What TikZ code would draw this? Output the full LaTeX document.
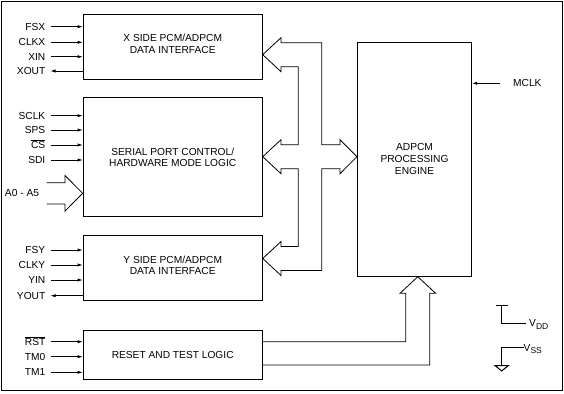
\documentclass[tikz,border=0pt]{standalone}
\usepackage{fontspec}
\setmainfont{Liberation Sans}
\usetikzlibrary{arrows.meta}
\begin{document}
\begin{tikzpicture}[x=1pt,y=-1pt,
  font=\fontsize{10.2}{11.5}\selectfont,
  blk/.style={draw, line width=0.8pt, inner sep=0pt},
  sig/.style={line width=0.7pt, -{Latex[length=5pt,width=3.2pt]}},
  lab/.style={anchor=east, inner sep=0pt, text height=7.2pt, text depth=0pt},
  txt/.style={align=center, inner sep=0pt},
  bus/.style={line width=0.8pt, line join=miter}]
\useasboundingbox (0,0) rectangle (564,393);
\draw[line width=1pt] (1.5,1.5) rectangle (562.5,390.5);

% blocks
\node[blk, minimum width=179.3pt, minimum height=65.3pt] (xb) at (172.7,46.7) {};
\node[blk, minimum width=179.3pt, minimum height=119pt] (sb) at (172.7,157.2) {};
\node[blk, minimum width=179.3pt, minimum height=65.7pt] (yb) at (172.7,267.8) {};
\node[blk, minimum width=179.3pt, minimum height=48.6pt] (rb) at (172.7,355) {};
\node[blk, minimum width=114.4pt, minimum height=233.6pt] (eng) at (414.5,159.5) {};

\node[txt] (xt) at (172.7,43.8) {X SIDE PCM/ADPCM\\DATA INTERFACE};
\node[txt] (st) at (172.7,157.2) {SERIAL PORT CONTROL/\\HARDWARE MODE LOGIC};
\node[txt] (yt) at (172.7,265.5) {Y SIDE PCM/ADPCM\\DATA INTERFACE};
\node[txt] (rt) at (172.7,355) {RESET AND TEST LOGIC};
\node[txt, font=\fontsize{10.2}{12.2}\selectfont] (et) at (414.5,159) {ADPCM\\PROCESSING\\ENGINE};

% X side signals
\node[lab] (fsx) at (45.5,26.7) {FSX};
\node[lab] (clkx) at (45.5,42.3) {CLKX};
\node[lab] (xin) at (45.5,56.7) {XIN};
\node[lab] (xout) at (45.5,71) {XOUT};
\draw[sig, shorten <=5pt] (fsx.east) -- (fsx.east -| xb.west);
\draw[sig, shorten <=5pt] (clkx.east) -- (clkx.east -| xb.west);
\draw[sig, shorten <=5pt] (xin.east) -- (xin.east -| xb.west);
\draw[sig, shorten >=5pt] (xout.east -| xb.west) -- (xout.east);

% serial signals
\node[lab] (sclk) at (45.5,115.7) {SCLK};
\node[lab] (sps) at (45.5,130) {SPS};
\node[lab] (cs) at (45.5,145) {$\overline{\mbox{CS}}$};
\node[lab] (sdi) at (45.5,160) {SDI};
\draw[sig, shorten <=5pt] (sclk.east) -- (sclk.east -| sb.west);
\draw[sig, shorten <=5pt] (sps.east) -- (sps.east -| sb.west);
\draw[sig, shorten <=5pt] (cs.east) -- (cs.east -| sb.west);
\draw[sig, shorten <=5pt] (sdi.east) -- (sdi.east -| sb.west);

\node[txt] (addr) at (22,193.3) {A0 - A5};
\draw[bus] (46.7,182.7) -- (65,182.7) -- (65,175.5) -- (sb.west |- 0,193.3)
  -- (65,211.1) -- (65,203.9) -- (46.7,203.9);

% Y side signals
\node[lab] (fsy) at (45.5,250) {FSY};
\node[lab] (clky) at (45.5,265) {CLKY};
\node[lab] (yin) at (45.5,280) {YIN};
\node[lab] (yout) at (45.5,295.7) {YOUT};
\draw[sig, shorten <=5pt] (fsy.east) -- (fsy.east -| yb.west);
\draw[sig, shorten <=5pt] (clky.east) -- (clky.east -| yb.west);
\draw[sig, shorten <=5pt] (yin.east) -- (yin.east -| yb.west);
\draw[sig, shorten >=5pt] (yout.east -| yb.west) -- (yout.east);

% reset signals
\node[lab] (rst) at (45.5,341.7) {$\overline{\mbox{RST}}$};
\node[lab] (tm0) at (45.5,356.7) {TM0};
\node[lab] (tm1) at (45.5,372.3) {TM1};
\draw[sig, shorten <=5pt] (rst.east) -- (rst.east -| rb.west);
\draw[sig, shorten <=5pt] (tm0.east) -- (tm0.east -| rb.west);
\draw[sig, shorten <=5pt] (tm1.east) -- (tm1.east -| rb.west);

% MCLK
\node[anchor=west, inner sep=0pt, text height=7.2pt, text depth=0pt] (mclk) at (513,83.3) {MCLK};
\draw[sig, shorten <=13pt] (mclk.west) -- (mclk.west -| eng.east);

% internal bus
\draw[bus] (xb.east |- 0,54.7) -- (281,37.7) -- (281,42.7) -- (321.7,42.7) -- (321.7,144.7)
  -- (340,144.7) -- (340,139.7) -- (eng.west |- 0,156.7) -- (340,173.7) -- (340,168.7)
  -- (321.7,168.7) -- (321.7,270.5) -- (281,270.5) -- (281,275.5) -- (yb.east |- 0,258.5)
  -- (281,241.5) -- (281,246.5) -- (298.3,246.5) -- (298.3,168.7) -- (281,168.7)
  -- (281,173.7) -- (sb.east |- 0,156.7) -- (281,139.7) -- (281,144.7) -- (298.3,144.7)
  -- (298.3,66.7) -- (281,66.7) -- (281,71.7) -- cycle;

% reset/test bus to engine
\draw[bus] (rb.east |- 0,341.7) -- (405.8,341.7) -- (405.8,293.3) -- (400,293.3)
  -- (eng.south -| 417.8,0) -- (435.6,293.3) -- (429.8,293.3) -- (429.8,365) -- (rb.east |- 0,365);

% supply symbols
\draw[line width=0.8pt] (495.7,305.7) -- (508.3,305.7);
\draw[line width=0.8pt] (501.7,305.7) -- (501.7,323.3) -- (526,323.3);
\node[anchor=west, inner sep=0pt] (vdd) at (529,324.5) {V\raisebox{-2.2pt}{\fontsize{8.5}{8.5}\selectfont DD}};
\draw[line width=0.8pt] (524,347.5) -- (501.7,347.5) -- (501.7,365.5);
\draw[line width=1pt, line join=miter] (495,365.5) -- (508.4,365.5) -- (501.7,371) -- cycle;
\node[anchor=west, inner sep=0pt] (vss) at (523.5,349) {V\raisebox{-2.2pt}{\fontsize{8.5}{8.5}\selectfont SS}};
\end{tikzpicture}
\end{document}
